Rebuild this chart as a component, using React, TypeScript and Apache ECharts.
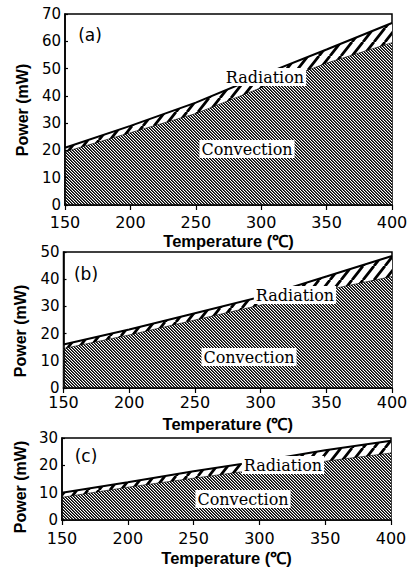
import React, { useEffect, useRef } from "react";
import * as echarts from "echarts";

// ---- data ----
const temps = [150, 200, 250, 300, 350, 400];

const convectionA = [19.5, 26.5, 33.5, 43, 52, 59.5];
const totalA = [21, 29, 37.5, 47.5, 57, 66.7];

const convectionB = [14.5, 19.5, 25, 30.5, 36, 41];
const totalB = [16, 21.5, 27.5, 33.5, 41, 48.5];

const convectionC = [8.3, 12, 15.3, 18.5, 21.5, 24.5];
const totalC = [10, 13.8, 17.8, 21.5, 25.5, 29];

const yMax = [70, 50, 30];
const panelTags = ["(a)", "(b)", "(c)"];
const xTitle = "Temperature (\u2103)";
const yTitle = "Power (mW)";
const radiationText = "Radiation";
const convectionText = "Convection";

function makeHatch(w: number, h: number, lw: number, dir: "back" | "fwd") {
  const c = document.createElement("canvas");
  c.width = w;
  c.height = h;
  const ctx = c.getContext("2d")!;
  ctx.fillStyle = "#fff";
  ctx.fillRect(0, 0, w, h);
  ctx.strokeStyle = "#000";
  ctx.lineWidth = lw;
  ctx.beginPath();
  for (let k = -1; k <= 1; k++) {
    if (dir === "back") {
      ctx.moveTo(k * w, 0);
      ctx.lineTo(k * w + w, h);
    } else {
      ctx.moveTo(k * w, h);
      ctx.lineTo(k * w + w, 0);
    }
  }
  ctx.stroke();
  return { image: c.toDataURL(), imageWidth: w, imageHeight: h, repeat: "repeat" };
}

// pixel-exact dense "\" hatch
function makeDenseHatch() {
  const n = 3;
  const c = document.createElement("canvas");
  c.width = n;
  c.height = n;
  const ctx = c.getContext("2d")!;
  for (let y = 0; y < n; y++) {
    for (let x = 0; x < n; x++) {
      const m = (((x - y) % n) + n) % n;
      ctx.fillStyle = m === 0 ? "#000" : m === 1 ? "#555" : "#fff";
      ctx.fillRect(x, y, 1, 1);
    }
  }
  return { image: c.toDataURL(), imageWidth: n, imageHeight: n, repeat: "repeat" };
}

export default function App() {
  const ref = useRef<HTMLDivElement>(null);
  useEffect(() => {
    document.body.style.margin = "0";
    if (!ref.current) return;
    const chart = echarts.init(ref.current, null, { renderer: "svg" });

    const convPattern = makeDenseHatch();
    const radPattern = makeHatch(11, 14, 2.8, "fwd");

    const grids = [
      { left: 65, top: 14, width: 327, height: 191 },
      { left: 63.5, top: 252, width: 328.5, height: 136 },
      { left: 62, top: 438, width: 329, height: 82 },
    ];
    const xLabelMargin = [9, 6, 10];
    const xNameGap = [27, 27, 29];
    const conv = [convectionA, convectionB, convectionC];
    const total = [totalA, totalB, totalC];

    const numFont = "DejaVu Sans";
    const titleFont = "Liberation Sans";

    const xAxis = grids.map((_, i) => ({
      type: "value",
      gridIndex: i,
      min: 150,
      max: 400,
      interval: 50,
      name: xTitle,
      nameLocation: "middle",
      nameGap: xNameGap[i],
      nameTextStyle: { fontFamily: titleFont, fontWeight: "bold", fontSize: 16.5, color: "#000" },
      axisLine: { show: true, lineStyle: { color: "#000", width: 1.6 } },
      axisTick: { show: true, inside: false, length: 5, lineStyle: { color: "#000", width: 1.2 } },
      axisLabel: { margin: xLabelMargin[i], fontFamily: numFont, fontSize: 16, color: "#000" },
      splitLine: { show: false },
      z: 10,
    }));
    const yAxis = grids.map((_, i) => ({
      type: "value",
      gridIndex: i,
      min: 0,
      max: yMax[i],
      interval: 10,
      axisLine: { show: true, lineStyle: { color: "#000", width: 1.6 } },
      axisTick: { show: true, inside: true, length: 3, lineStyle: { color: "#000", width: 1.2 } },
      axisLabel: { margin: 4, fontFamily: numFont, fontSize: 15, color: "#000" },
      splitLine: { show: false },
      z: 10,
    }));

    const series: any[] = [];
    grids.forEach((_, i) => {
      series.push({
        name: radiationText,
        type: "line",
        xAxisIndex: i,
        yAxisIndex: i,
        data: temps.map((t, k) => [t, total[i][k]]),
        showSymbol: false,
        lineStyle: { color: "#000", width: 2 },
        areaStyle: { color: radPattern, opacity: 1 },
        z: 2,
      });
      series.push({
        name: convectionText,
        type: "line",
        xAxisIndex: i,
        yAxisIndex: i,
        data: temps.map((t, k) => [t, conv[i][k]]),
        showSymbol: false,
        lineStyle: { color: "#000", width: 0.6 },
        areaStyle: { color: convPattern, opacity: 1 },
        z: 3,
      });
    });

    const serifFont = "DejaVu Serif";
    const labelStyle = (text: string, x: number, y: number) => ({
      type: "text",
      x,
      y,
      z: 20,
      style: {
        text,
        fontFamily: serifFont,
        fontSize: 16,
        fill: "#000",
        align: "center",
        verticalAlign: "middle",
        backgroundColor: "#fff",
        padding: [1, 2],
      },
    });
    const tagStyle = (text: string, x: number, y: number) => ({
      type: "text",
      x,
      y,
      z: 20,
      style: { text, fontFamily: numFont, fontSize: 17, fill: "#000", align: "center", verticalAlign: "middle" },
    });
    const yTitleStyle = (x: number, y: number) => ({
      type: "text",
      x,
      y,
      rotation: Math.PI / 2,
      z: 20,
      style: {
        text: yTitle,
        fontFamily: titleFont,
        fontWeight: "bold",
        fontSize: 16,
        fill: "#000",
        align: "center",
        verticalAlign: "middle",
      },
    });

    chart.setOption({
      animation: false,
      backgroundColor: "#fff",
      grid: grids.map((g) => ({ ...g, show: true, borderColor: "#000", borderWidth: 1.5, backgroundColor: "transparent" })),
      xAxis,
      yAxis,
      series,
      graphic: [
        labelStyle(radiationText, 265, 77),
        labelStyle(convectionText, 247, 149),
        labelStyle(radiationText, 295, 295),
        labelStyle(convectionText, 249, 357),
        labelStyle(radiationText, 283, 465),
        labelStyle(convectionText, 243, 499),
        tagStyle(panelTags[0], 90, 35),
        tagStyle(panelTags[1], 86, 274),
        tagStyle(panelTags[2], 86, 456),
        yTitleStyle(22, 110),
        yTitleStyle(20, 331),
        yTitleStyle(20, 487),
      ],
    });
    return () => chart.dispose();
  }, []);
  return <div ref={ref} style={{ width: 411, height: 569 }} />;
}
